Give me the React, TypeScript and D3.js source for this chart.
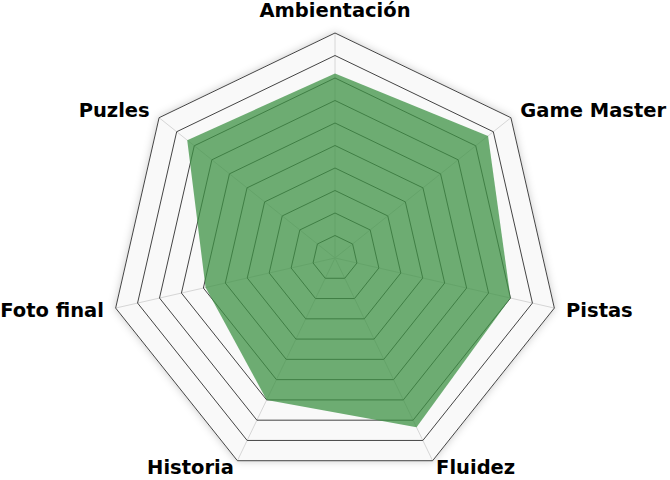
import React from "react";
import * as d3 from "d3";

const categories = ["Ambientación", "Game Master", "Pistas", "Fluidez", "Historia", "Foto final", "Puzles"];
const values = [8.2, 8.7, 8.0, 8.35, 7.0, 5.9, 8.4];
const levels = [1, 2, 3, 4, 5, 6, 7, 8, 9, 10];
const maxValue = 10;

export default function App() {
  const W = 670, H = 480;
  const cx = 335, cy = 258, R = 225;
  const n = categories.length;
  const r = d3.scaleLinear().domain([0, maxValue]).range([0, R]);
  const angle = (i: number) => (i * 2 * Math.PI) / n;
  const pt = (i: number, rad: number): [number, number] => [
    cx + rad * Math.sin(angle(i)),
    cy - rad * Math.cos(angle(i)),
  ];
  const line = d3.line<[number, number]>().curve(d3.curveLinearClosed);
  const ring = (lv: number) => line(categories.map((_, i) => pt(i, r(lv)))) as string;
  const area = line(values.map((v, i) => pt(i, r(v)))) as string;

  return (
    <svg width={W} height={H} style={{ position: "absolute", left: 0, top: 0 }}
      fontFamily="DejaVu Sans, Verdana, sans-serif">
      <defs>
        <filter id="sh" x="-20%" y="-20%" width="140%" height="140%">
          <feDropShadow dx="0" dy="0" stdDeviation="4" floodColor="#000" floodOpacity="0.22" />
        </filter>
      </defs>
      <rect width={W} height={H} fill="#fff" />
      <path d={ring(maxValue)} fill="#f9f9f9" filter="url(#sh)" />
      {categories.map((_, i) => {
        const [x, y] = pt(i, R);
        return <line key={"s" + i} x1={cx} y1={cy} x2={x} y2={y} stroke="#d6d6d6" strokeWidth={1} />;
      })}
      {levels.map((lv) => (
        <path key={"r" + lv} d={ring(lv)} fill="none" stroke="#444" strokeWidth={1} />
      ))}
      <path d={area} fill="rgb(62,146,68)" fillOpacity={0.75} stroke="none" />
      {categories.map((c, i) => {
        const [x0, y0] = pt(i, R);
        const dx = x0 - cx;
        const anchor = Math.abs(dx) < 1 ? "middle" : dx > 0 ? "start" : "end";
        const top = Math.abs(dx) < 1;
        const bottom = y0 - cy > 100;
        const [x, y] = pt(i, bottom ? R + 8 : R + 12);
        return (
          <text key={"l" + i} x={x} y={top ? cy - R - 16 : y}
            textAnchor={anchor} dominantBaseline={top ? "auto" : "central"}
            fontSize={19.5} fontWeight="bold" fill="#000">
            {c}
          </text>
        );
      })}
    </svg>
  );
}
